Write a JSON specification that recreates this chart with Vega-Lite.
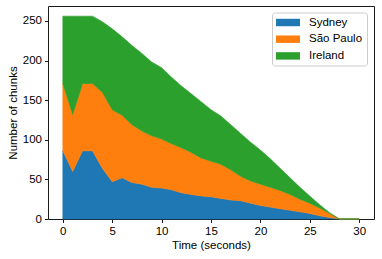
{
  "$schema": "https://vega.github.io/schema/vega-lite/v6.json",
  "width": 326,
  "height": 213,
  "padding": {"left": 48, "top": 6, "right": 8, "bottom": 40},
  "autosize": {"type": "none"},
  "config": {
    "font": "Liberation Sans",
    "view": {"stroke": "#1a1a1a", "strokeWidth": 1},
    "axis": {
      "domain": false,
      "grid": false,
      "tickColor": "#1a1a1a",
      "tickSize": 3.5,
      "labelFont": "Liberation Sans",
      "labelFontSize": 11.5,
      "labelColor": "#000000",
      "titleFont": "Liberation Sans",
      "titleFontSize": 11.5,
      "titleFontWeight": "normal",
      "titleColor": "#000000"
    }
  },
  "datasets": {
    "chunks": [
      {"t": 0, "city": "Sydney", "n": 86}, {"t": 0, "city": "São Paulo", "n": 85}, {"t": 0, "city": "Ireland", "n": 85},
      {"t": 1, "city": "Sydney", "n": 60}, {"t": 1, "city": "São Paulo", "n": 72}, {"t": 1, "city": "Ireland", "n": 124},
      {"t": 2, "city": "Sydney", "n": 86}, {"t": 2, "city": "São Paulo", "n": 85}, {"t": 2, "city": "Ireland", "n": 85},
      {"t": 3, "city": "Sydney", "n": 86}, {"t": 3, "city": "São Paulo", "n": 85}, {"t": 3, "city": "Ireland", "n": 85},
      {"t": 4, "city": "Sydney", "n": 64}, {"t": 4, "city": "São Paulo", "n": 96}, {"t": 4, "city": "Ireland", "n": 89},
      {"t": 5, "city": "Sydney", "n": 47}, {"t": 5, "city": "São Paulo", "n": 91}, {"t": 5, "city": "Ireland", "n": 102},
      {"t": 6, "city": "Sydney", "n": 52}, {"t": 6, "city": "São Paulo", "n": 79}, {"t": 6, "city": "Ireland", "n": 99},
      {"t": 7, "city": "Sydney", "n": 46}, {"t": 7, "city": "São Paulo", "n": 73}, {"t": 7, "city": "Ireland", "n": 100},
      {"t": 8, "city": "Sydney", "n": 44}, {"t": 8, "city": "São Paulo", "n": 67}, {"t": 8, "city": "Ireland", "n": 98},
      {"t": 9, "city": "Sydney", "n": 40}, {"t": 9, "city": "São Paulo", "n": 65}, {"t": 9, "city": "Ireland", "n": 93},
      {"t": 10, "city": "Sydney", "n": 39}, {"t": 10, "city": "São Paulo", "n": 62}, {"t": 10, "city": "Ireland", "n": 90},
      {"t": 11, "city": "Sydney", "n": 37}, {"t": 11, "city": "São Paulo", "n": 58}, {"t": 11, "city": "Ireland", "n": 84},
      {"t": 12, "city": "Sydney", "n": 33}, {"t": 12, "city": "São Paulo", "n": 57}, {"t": 12, "city": "Ireland", "n": 78},
      {"t": 13, "city": "Sydney", "n": 31}, {"t": 13, "city": "São Paulo", "n": 53}, {"t": 13, "city": "Ireland", "n": 74},
      {"t": 14, "city": "Sydney", "n": 29}, {"t": 14, "city": "São Paulo", "n": 48}, {"t": 14, "city": "Ireland", "n": 71},
      {"t": 15, "city": "Sydney", "n": 28}, {"t": 15, "city": "São Paulo", "n": 45}, {"t": 15, "city": "Ireland", "n": 65},
      {"t": 16, "city": "Sydney", "n": 26}, {"t": 16, "city": "São Paulo", "n": 43}, {"t": 16, "city": "Ireland", "n": 61},
      {"t": 17, "city": "Sydney", "n": 24}, {"t": 17, "city": "São Paulo", "n": 38}, {"t": 17, "city": "Ireland", "n": 57},
      {"t": 18, "city": "Sydney", "n": 23}, {"t": 18, "city": "São Paulo", "n": 31}, {"t": 18, "city": "Ireland", "n": 54},
      {"t": 19, "city": "Sydney", "n": 20}, {"t": 19, "city": "São Paulo", "n": 28}, {"t": 19, "city": "Ireland", "n": 49},
      {"t": 20, "city": "Sydney", "n": 17}, {"t": 20, "city": "São Paulo", "n": 27}, {"t": 20, "city": "Ireland", "n": 43},
      {"t": 21, "city": "Sydney", "n": 15}, {"t": 21, "city": "São Paulo", "n": 25}, {"t": 21, "city": "Ireland", "n": 36},
      {"t": 22, "city": "Sydney", "n": 13}, {"t": 22, "city": "São Paulo", "n": 23}, {"t": 22, "city": "Ireland", "n": 28},
      {"t": 23, "city": "Sydney", "n": 11}, {"t": 23, "city": "São Paulo", "n": 20}, {"t": 23, "city": "Ireland", "n": 21},
      {"t": 24, "city": "Sydney", "n": 9}, {"t": 24, "city": "São Paulo", "n": 16}, {"t": 24, "city": "Ireland", "n": 15},
      {"t": 25, "city": "Sydney", "n": 7}, {"t": 25, "city": "São Paulo", "n": 13}, {"t": 25, "city": "Ireland", "n": 9},
      {"t": 26, "city": "Sydney", "n": 4}, {"t": 26, "city": "São Paulo", "n": 10}, {"t": 26, "city": "Ireland", "n": 4},
      {"t": 27, "city": "Sydney", "n": 2}, {"t": 27, "city": "São Paulo", "n": 5}, {"t": 27, "city": "Ireland", "n": 1},
      {"t": 28, "city": "Sydney", "n": 0}, {"t": 28, "city": "São Paulo", "n": 0}, {"t": 28, "city": "Ireland", "n": 0},
      {"t": 29, "city": "Sydney", "n": 0}, {"t": 29, "city": "São Paulo", "n": 0}, {"t": 29, "city": "Ireland", "n": 0},
      {"t": 30, "city": "Sydney", "n": 0}, {"t": 30, "city": "São Paulo", "n": 0}, {"t": 30, "city": "Ireland", "n": 0}
    ]
  },
  "data": {"name": "chunks"},
  "transform": [
    {"calculate": "indexof(['Sydney','São Paulo','Ireland'], datum.city)", "as": "stackRank"}
  ],
  "mark": {"type": "area", "interpolate": "linear", "strokeWidth": 0.6, "strokeOpacity": 1},
  "encoding": {
    "x": {
      "field": "t", "type": "quantitative",
      "scale": {"domain": [-1.5, 31.5], "nice": false, "zero": false},
      "axis": {"values": [0, 5, 10, 15, 20, 25, 30], "title": "Time (seconds)", "titlePadding": 2, "labelPadding": 3}
    },
    "y": {
      "field": "n", "type": "quantitative", "stack": "zero",
      "scale": {"domain": [0, 268.8], "nice": false},
      "axis": {"values": [0, 50, 100, 150, 200, 250], "title": "Number of chunks", "titlePadding": 4, "labelPadding": 3}
    },
    "color": {
      "field": "city", "type": "nominal",
      "scale": {"domain": ["Sydney", "São Paulo", "Ireland"], "range": ["#1f77b4", "#ff7f0e", "#2ca02c"]},
      "legend": {
        "title": null,
        "orient": "none",
        "legendX": 224,
        "legendY": 6.5,
        "padding": 4,
        "fillColor": "rgba(255,255,255,0.8)",
        "strokeColor": "#cccccc",
        "cornerRadius": 3,
        "symbolType": "M-2,-0.62H2V0.62H-2Z",
        "symbolSize": 144,
        "symbolStrokeWidth": 0,
        "symbolOpacity": 1,
        "symbolOffset": 6,
        "labelOffset": 15,
        "labelFontSize": 11.5,
        "labelFont": "Liberation Sans",
        "labelColor": "#000000",
        "rowPadding": 4.7
      }
    },
    "stroke": {
      "field": "city", "type": "nominal",
      "scale": {"domain": ["Sydney", "São Paulo", "Ireland"], "range": ["#1f77b4", "#ff7f0e", "#2ca02c"]},
      "legend": null
    },
    "order": {"field": "stackRank", "type": "quantitative"}
  }
}
